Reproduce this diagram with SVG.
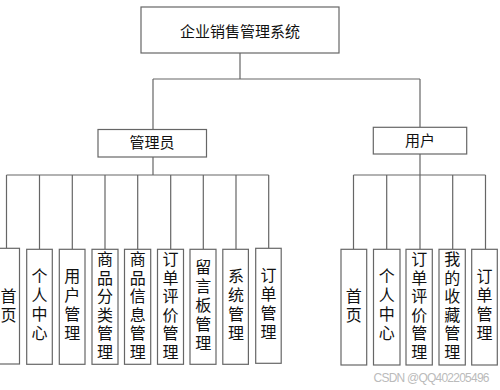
<svg xmlns="http://www.w3.org/2000/svg" width="500" height="390" viewBox="0 0 500 390">
<style>
.box{fill:#fff;stroke:#666;stroke-width:1.2}
.ln{fill:none;stroke:#666;stroke-width:1.2}
.t{font-family:"Noto Sans CJK SC","Liberation Sans",sans-serif;fill:#111;text-anchor:middle}
.v{font-size:16px}
.wm{font-family:"Liberation Sans",sans-serif;font-size:12px;fill:#bbb}
</style>
<rect width="500" height="390" fill="#fff"/>
<g id="connectors">
<path class="ln" d="M240 53V79M153 79H420M153 79V129M420 79V127"/>
<path class="ln" d="M153 157V175M6.5 175H268.7M6.5 175V248M39.5 175V249M72.3 175V249M105 175V249M137.7 175V249M170.7 175V249M203.3 175V249M236 175V249M268.7 175V248"/>
<path class="ln" d="M420 154V175M353.5 175H485.5M353.5 175V249M386.7 175V249M420 175V249M452.7 175V249M485.5 175V249"/>
</g>
<g id="root"><rect class="box" x="141" y="7" width="198" height="46"/><text class="t" x="240" y="37" font-size="15">企业销售管理系统</text></g>
<g id="admin"><rect class="box" x="98" y="129.5" width="108.5" height="27.5"/><text class="t" x="152" y="148" font-size="15">管理员</text></g>
<g id="user"><rect class="box" x="373.3" y="127.3" width="93.4" height="26.7"/><text class="t" x="420" y="146" font-size="15">用户</text></g>
<g id="a1"><rect class="box" x="-6.5" y="248.3" width="26" height="115.7"/><text class="t v" x="8.5"><tspan x="8.5" y="302">首</tspan><tspan x="8.5" y="321">页</tspan></text></g>
<g id="a2"><rect class="box" x="26.7" y="249.3" width="25.6" height="115"/><text class="t v"><tspan x="39.5" y="282">个</tspan><tspan x="39.5" y="301">人</tspan><tspan x="39.5" y="320">中</tspan><tspan x="39.5" y="339">心</tspan></text></g>
<g id="a3"><rect class="box" x="59.3" y="249.3" width="25.7" height="115"/><text class="t v"><tspan x="72.3" y="282">用</tspan><tspan x="72.3" y="301">户</tspan><tspan x="72.3" y="320">管</tspan><tspan x="72.3" y="339">理</tspan></text></g>
<g id="a4"><rect class="box" x="92" y="249.3" width="26" height="115"/><text class="t v"><tspan x="105" y="265">商</tspan><tspan x="105" y="283.5">品</tspan><tspan x="105" y="302">分</tspan><tspan x="105" y="320.5">类</tspan><tspan x="105" y="339">管</tspan><tspan x="105" y="357.5">理</tspan></text></g>
<g id="a5"><rect class="box" x="124.5" y="249.3" width="26.2" height="115"/><text class="t v"><tspan x="137.7" y="265">商</tspan><tspan x="137.7" y="283.5">品</tspan><tspan x="137.7" y="302">信</tspan><tspan x="137.7" y="320.5">息</tspan><tspan x="137.7" y="339">管</tspan><tspan x="137.7" y="357.5">理</tspan></text></g>
<g id="a6"><rect class="box" x="157.5" y="249.3" width="26" height="115"/><text class="t v"><tspan x="170.5" y="265">订</tspan><tspan x="170.5" y="283.5">单</tspan><tspan x="170.5" y="302">评</tspan><tspan x="170.5" y="320.5">价</tspan><tspan x="170.5" y="339">管</tspan><tspan x="170.5" y="357.5">理</tspan></text></g>
<g id="a7"><rect class="box" x="190" y="249.3" width="26" height="115"/><text class="t v"><tspan x="203.3" y="272.5">留</tspan><tspan x="203.3" y="291.5">言</tspan><tspan x="203.3" y="310.5">板</tspan><tspan x="203.3" y="329.5">管</tspan><tspan x="203.3" y="348.5">理</tspan></text></g>
<g id="a8"><rect class="box" x="222.8" y="249.3" width="25.6" height="115"/><text class="t v"><tspan x="236" y="282">系</tspan><tspan x="236" y="301">统</tspan><tspan x="236" y="320">管</tspan><tspan x="236" y="339">理</tspan></text></g>
<g id="a9"><rect class="box" x="255.7" y="248.3" width="25.5" height="115"/><text class="t v"><tspan x="268.5" y="281">订</tspan><tspan x="268.5" y="300">单</tspan><tspan x="268.5" y="319">管</tspan><tspan x="268.5" y="338">理</tspan></text></g>
<g id="u1"><rect class="box" x="341" y="249.3" width="25.7" height="115.7"/><text class="t v"><tspan x="353.8" y="302">首</tspan><tspan x="353.8" y="321">页</tspan></text></g>
<g id="u2"><rect class="box" x="373.5" y="249.3" width="26.5" height="115.7"/><text class="t v"><tspan x="386.7" y="282">个</tspan><tspan x="386.7" y="301">人</tspan><tspan x="386.7" y="320">中</tspan><tspan x="386.7" y="339">心</tspan></text></g>
<g id="u3"><rect class="box" x="406" y="249.3" width="26.3" height="115.7"/><text class="t v"><tspan x="419.2" y="265">订</tspan><tspan x="419.2" y="283.5">单</tspan><tspan x="419.2" y="302">评</tspan><tspan x="419.2" y="320.5">价</tspan><tspan x="419.2" y="339">管</tspan><tspan x="419.2" y="357.5">理</tspan></text></g>
<g id="u4"><rect class="box" x="439" y="249.3" width="26.3" height="115.7"/><text class="t v"><tspan x="452.2" y="265">我</tspan><tspan x="452.2" y="283.5">的</tspan><tspan x="452.2" y="302">收</tspan><tspan x="452.2" y="320.5">藏</tspan><tspan x="452.2" y="339">管</tspan><tspan x="452.2" y="357.5">理</tspan></text></g>
<g id="u5"><rect class="box" x="471.7" y="249.3" width="25.6" height="115.7"/><text class="t v"><tspan x="484.5" y="282">订</tspan><tspan x="484.5" y="301">单</tspan><tspan x="484.5" y="320">管</tspan><tspan x="484.5" y="339">理</tspan></text></g>
<text class="wm" x="373.5" y="382" textLength="116">CSDN @QQ402205496</text>
</svg>
